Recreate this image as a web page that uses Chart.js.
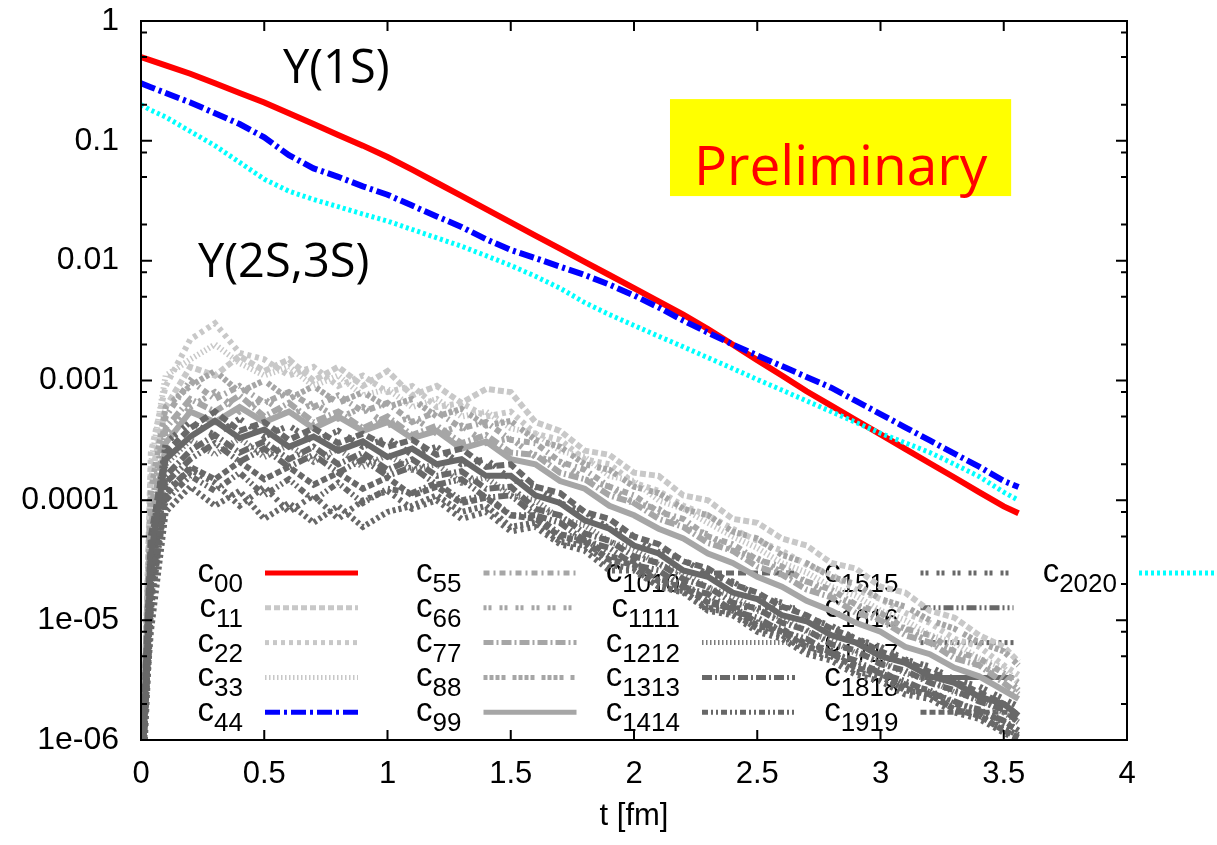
<!DOCTYPE html>
<html>
<head>
<meta charset="utf-8">
<script src="https://cdn.jsdelivr.net/npm/chart.js@4.4.1/dist/chart.umd.min.js"></script>
<style>
  html, body { margin: 0; padding: 0; background: #fff; }
  #wrap { width: 1217px; height: 845px; position: relative; }
</style>
</head>
<body>
<div id="wrap"><canvas id="myChart"></canvas></div>
<script>
// t [fm] sampling points shared by all correlators
const times = [0, 0.04, 0.1, 0.2, 0.3, 0.4, 0.5, 0.6, 0.7, 0.8, 0.9,
  1.0, 1.1, 1.2, 1.3, 1.4, 1.5, 1.6, 1.7, 1.8, 1.9,
  2.0, 2.1, 2.2, 2.3, 2.4, 2.5, 2.6, 2.7, 2.8, 2.9,
  3.0, 3.1, 3.2, 3.3, 3.4, 3.5, 3.56];

const xTickValues = [0, 0.5, 1, 1.5, 2, 2.5, 3, 3.5, 4];
const xTickLabels = ['0', '0.5', '1', '1.5', '2', '2.5', '3', '3.5', '4'];
const yTickValues = [1e-6, 1e-5, 1e-4, 1e-3, 1e-2, 1e-1, 1];
const yTickLabels = ['1e-06', '1e-05', '0.0001', '0.001', '0.01', '0.1', '1'];

// Y(1S), Y(2S,3S) diagonal elements
const c00 = [0.50, 0.47, 0.427, 0.363, 0.302, 0.251, 0.209, 0.170, 0.138, 0.112, 0.0912,
  0.0733, 0.0575, 0.0447, 0.0347, 0.0269, 0.0209, 0.0162, 0.0126, 0.00977, 0.00759,
  0.00589, 0.00457, 0.00355, 0.00269, 0.00200, 0.00148, 0.00110, 0.000813, 0.000617, 0.000468,
  0.000355, 0.000269, 0.000204, 0.000155, 0.000117, 0.000089, 0.000078];
const c44 = [0.302, 0.28, 0.251, 0.209, 0.170, 0.138, 0.107, 0.0759, 0.0589, 0.0501, 0.0417,
  0.0355, 0.0288, 0.0234, 0.0191, 0.0151, 0.0123, 0.0105, 0.00891, 0.00759, 0.00631,
  0.00513, 0.00407, 0.00316, 0.00251, 0.00200, 0.00162, 0.00132, 0.00107, 0.000871, 0.000676,
  0.000525, 0.000407, 0.000316, 0.000245, 0.000191, 0.000145, 0.000129];
const c2020 = [0.200, 0.18, 0.158, 0.120, 0.0912, 0.0661, 0.0479, 0.0380, 0.0324, 0.0282, 0.0245,
  0.0214, 0.0182, 0.0155, 0.0132, 0.0110, 0.00912, 0.00741, 0.00589, 0.00447, 0.00355,
  0.00288, 0.00234, 0.00191, 0.00155, 0.00126, 0.00102, 0.000832, 0.000676, 0.000550, 0.000447,
  0.000363, 0.000302, 0.000251, 0.000200, 0.000158, 0.000117, 0.000100];

// noisy off-diagonal / excited correlators
const c11 = [3e-7, 1.5e-4, 6e-4, 1.3e-3, 1.1e-3, 1.6e-3, 1.2e-3, 1.5e-3, 1.0e-3, 1.3e-3, 9e-4,
  1.2e-3, 7.5e-4, 9e-4, 6.5e-4, 8.5e-4, 8e-4, 4.5e-4, 3.8e-4, 2.6e-4, 2.4e-4,
  1.7e-4, 1.6e-4, 1.1e-4, 1.0e-4, 7e-5, 6.5e-5, 4.8e-5, 4.2e-5, 3.0e-5, 2.7e-5,
  1.9e-5, 1.7e-5, 1.2e-5, 1.05e-5, 7.5e-6, 6e-6, 4.5e-6];
const c22 = [2e-7, 2.5e-4, 9e-4, 2.2e-3, 3.0e-3, 1.7e-3, 1.5e-3, 1.1e-3, 1.3e-3, 9e-4, 1.1e-3,
  8e-4, 9e-4, 6e-4, 6.5e-4, 5e-4, 5.5e-4, 3.6e-4, 3.2e-4, 2.2e-4, 2.0e-4,
  1.4e-4, 1.2e-4, 9e-5, 7.5e-5, 5.8e-5, 4.6e-5, 3.8e-5, 2.9e-5, 2.4e-5, 1.8e-5,
  1.5e-5, 1.15e-5, 9.5e-6, 7e-6, 6e-6, 4.2e-6, 3.5e-6];
const c33 = [2e-7, 2e-4, 1.1e-3, 1.5e-3, 2.0e-3, 1.4e-3, 1.1e-3, 1.3e-3, 9e-4, 1.1e-3, 7.5e-4,
  8.5e-4, 6e-4, 7e-4, 5e-4, 5.5e-4, 4e-4, 3.6e-4, 2.6e-4, 2.3e-4, 1.6e-4,
  1.45e-4, 1.0e-4, 8.5e-5, 6.5e-5, 5e-5, 4e-5, 3e-5, 2.5e-5, 1.9e-5, 1.6e-5,
  1.2e-5, 1.0e-5, 7.5e-6, 6.5e-6, 4.8e-6, 4e-6, 3e-6];
const c55 = [4e-7, 8e-5, 5e-4, 1.0e-3, 7e-4, 9e-4, 6.5e-4, 8e-4, 6e-4, 7.5e-4, 5.5e-4,
  6.5e-4, 4.5e-4, 5.5e-4, 4e-4, 4.5e-4, 3.2e-4, 3e-4, 2.1e-4, 1.8e-4, 1.3e-4,
  1.1e-4, 8e-5, 7e-5, 5e-5, 4.3e-5, 3.2e-5, 2.8e-5, 2.1e-5, 1.8e-5, 1.35e-5,
  1.15e-5, 8.5e-6, 7.5e-6, 5.5e-6, 4.8e-6, 3.6e-6, 3e-6];
const c66 = [3e-7, 4e-5, 3.5e-4, 6e-4, 8e-4, 5.5e-4, 7e-4, 5e-4, 6.5e-4, 4.8e-4, 6e-4,
  4.2e-4, 5e-4, 3.6e-4, 4.2e-4, 3e-4, 3.3e-4, 2.3e-4, 2.1e-4, 1.5e-4, 1.3e-4,
  9.5e-5, 8.5e-5, 6e-5, 5.2e-5, 3.8e-5, 3.3e-5, 2.5e-5, 2.1e-5, 1.6e-5, 1.35e-5,
  1.0e-5, 8.5e-6, 6.5e-6, 5.5e-6, 4.2e-6, 3.4e-6, 2.6e-6];
const c77 = [5e-7, 6e-5, 4e-4, 7e-4, 5.5e-4, 7.5e-4, 5e-4, 6.5e-4, 4.5e-4, 5.5e-4, 4e-4,
  5e-4, 3.5e-4, 4.2e-4, 3e-4, 3.5e-4, 2.5e-4, 2.4e-4, 1.7e-4, 1.5e-4, 1.1e-4,
  9.5e-5, 7e-5, 6e-5, 4.4e-5, 3.8e-5, 2.8e-5, 2.4e-5, 1.8e-5, 1.55e-5, 1.15e-5,
  1.0e-5, 7.5e-6, 6.5e-6, 4.8e-6, 4.2e-6, 3e-6, 2.4e-6];
const c88 = [3e-7, 1.2e-4, 6e-4, 9e-4, 1.2e-3, 8e-4, 1.0e-3, 7e-4, 9e-4, 6.5e-4, 8e-4,
  6e-4, 7e-4, 5e-4, 5.8e-4, 4.2e-4, 4.6e-4, 3.2e-4, 2.8e-4, 2.0e-4, 1.8e-4,
  1.3e-4, 1.15e-4, 8.5e-5, 7.5e-5, 5.5e-5, 4.8e-5, 3.5e-5, 3.0e-5, 2.3e-5, 2.0e-5,
  1.5e-5, 1.3e-5, 1.0e-5, 8.5e-6, 6.5e-6, 5.5e-6, 4.2e-6];
const c99 = [6e-7, 3e-5, 3e-4, 5.5e-4, 4.5e-4, 6e-4, 4.5e-4, 5.5e-4, 4e-4, 5e-4, 3.8e-4,
  4.5e-4, 3.3e-4, 3.8e-4, 2.7e-4, 3.1e-4, 2.2e-4, 2.0e-4, 1.45e-4, 1.25e-4, 9e-5,
  7.5e-5, 5.8e-5, 4.8e-5, 3.6e-5, 3.0e-5, 2.3e-5, 1.9e-5, 1.45e-5, 1.2e-5, 9.5e-6,
  8e-6, 6e-6, 5.2e-6, 4e-6, 3.4e-6, 2.6e-6, 2.2e-6];
const c1010 = [4e-7, 5e-5, 2.5e-4, 4e-4, 5.5e-4, 3.8e-4, 4.5e-4, 3.2e-4, 4e-4, 3e-4, 3.6e-4,
  2.8e-4, 3.2e-4, 2.4e-4, 2.7e-4, 1.9e-4, 2.0e-4, 1.3e-4, 1.15e-4, 8e-5, 7e-5,
  5e-5, 4.3e-5, 3.1e-5, 2.7e-5, 2.0e-5, 1.7e-5, 1.3e-5, 1.1e-5, 8.5e-6, 7e-6,
  5.5e-6, 4.6e-6, 3.7e-6, 3.1e-6, 2.5e-6, 2e-6, 1.6e-6];
const c1111 = [2e-7, 1.2e-5, 1.2e-4, 1.8e-4, 1.4e-4, 9e-5, 1.3e-4, 8e-5, 1.1e-4, 7e-5, 1.0e-4,
  1.2e-4, 8.5e-5, 1.0e-4, 7e-5, 8e-5, 5.5e-5, 6e-5, 4.3e-5, 3.8e-5, 2.6e-5,
  2.6e-5, 1.9e-5, 1.7e-5, 1.2e-5, 1.1e-5, 8e-6, 7e-6, 5.2e-6, 4.6e-6, 3.5e-6,
  3.1e-6, 2.4e-6, 2.2e-6, 1.7e-6, 1.5e-6, 1.15e-6, 1.0e-6];
const c1212 = [3e-7, 3e-5, 2e-4, 3.2e-4, 2.4e-4, 3.3e-4, 2.3e-4, 2.9e-4, 2.1e-4, 2.7e-4, 1.9e-4,
  2.4e-4, 1.8e-4, 2.0e-4, 1.4e-4, 1.55e-4, 1.1e-4, 1.0e-4, 7e-5, 6.2e-5, 4.5e-5,
  3.9e-5, 2.9e-5, 2.5e-5, 1.85e-5, 1.6e-5, 1.2e-5, 1.05e-5, 8e-6, 6.8e-6, 5.3e-6,
  4.6e-6, 3.6e-6, 3.2e-6, 2.5e-6, 2.2e-6, 1.7e-6, 1.4e-6];
const c1313 = [5e-7, 2e-5, 1.6e-4, 2.6e-4, 3.5e-4, 2.5e-4, 3.1e-4, 2.2e-4, 2.8e-4, 2.0e-4, 2.5e-4,
  1.8e-4, 2.2e-4, 1.6e-4, 1.75e-4, 1.25e-4, 1.3e-4, 8.5e-5, 7.5e-5, 5.3e-5, 4.6e-5,
  3.4e-5, 3.0e-5, 2.2e-5, 1.9e-5, 1.4e-5, 1.25e-5, 9.5e-6, 8.3e-6, 6.3e-6, 5.6e-6,
  4.3e-6, 3.8e-6, 3.0e-6, 2.6e-6, 2.1e-6, 1.8e-6, 1.4e-6];
const c1414 = [3e-7, 1.5e-5, 1.0e-4, 1.6e-4, 1.2e-4, 1.7e-4, 1.1e-4, 1.5e-4, 1.0e-4, 1.4e-4, 9.5e-5,
  1.25e-4, 1.15e-4, 1.4e-4, 1.0e-4, 1.1e-4, 7.5e-5, 7.5e-5, 5.2e-5, 4.8e-5, 3.4e-5,
  3.1e-5, 2.2e-5, 2.0e-5, 1.45e-5, 1.3e-5, 9.5e-6, 8.5e-6, 6.3e-6, 5.6e-6, 4.2e-6,
  3.8e-6, 2.9e-6, 2.6e-6, 2.0e-6, 1.8e-6, 1.4e-6, 1.2e-6];
const c1515 = [4e-7, 4e-5, 3e-4, 4.5e-4, 3.5e-4, 4.8e-4, 3.4e-4, 4.2e-4, 3.1e-4, 3.8e-4, 2.8e-4,
  3.3e-4, 2.4e-4, 2.8e-4, 2.0e-4, 2.2e-4, 1.5e-4, 1.3e-4, 9.5e-5, 8e-5, 5.8e-5,
  5e-5, 3.7e-5, 3.2e-5, 2.4e-5, 2.1e-5, 1.6e-5, 1.4e-5, 1.05e-5, 9e-6, 7e-6,
  6e-6, 4.7e-6, 4.1e-6, 3.2e-6, 2.8e-6, 2.2e-6, 1.9e-6];
const c1616 = [2e-7, 2.5e-5, 1.4e-4, 2.2e-4, 3.0e-4, 2.1e-4, 2.7e-4, 1.9e-4, 2.4e-4, 1.7e-4, 2.2e-4,
  1.6e-4, 1.9e-4, 1.35e-4, 1.5e-4, 1.05e-4, 1.1e-4, 7.5e-5, 6.5e-5, 4.6e-5, 4.0e-5,
  2.9e-5, 2.6e-5, 1.9e-5, 1.65e-5, 1.2e-5, 1.05e-5, 8e-6, 7e-6, 5.3e-6, 4.6e-6,
  3.6e-6, 3.1e-6, 2.5e-6, 2.1e-6, 1.75e-6, 1.45e-6, 1.2e-6];
const c1717 = [6e-7, 8e-6, 8e-5, 1.3e-4, 9e-5, 1.2e-4, 7e-5, 9.5e-5, 6.5e-5, 9e-5, 6e-5,
  8e-5, 9e-5, 1.1e-4, 8e-5, 9e-5, 6e-5, 6.5e-5, 4.5e-5, 4.2e-5, 2.9e-5,
  2.7e-5, 1.9e-5, 1.75e-5, 1.25e-5, 1.15e-5, 8.5e-6, 7.5e-6, 5.5e-6, 5e-6, 3.7e-6,
  3.4e-6, 2.6e-6, 2.4e-6, 1.8e-6, 1.6e-6, 1.25e-6, 1.1e-6];
const c1818 = [3e-7, 3.5e-5, 2.2e-4, 3.4e-4, 4.6e-4, 3.3e-4, 3.9e-4, 2.8e-4, 3.4e-4, 2.6e-4, 3.1e-4,
  2.3e-4, 2.7e-4, 2.0e-4, 2.2e-4, 1.6e-4, 1.6e-4, 1.1e-4, 9.5e-5, 6.8e-5, 5.8e-5,
  4.2e-5, 3.6e-5, 2.6e-5, 2.3e-5, 1.7e-5, 1.5e-5, 1.1e-5, 9.8e-6, 7.5e-6, 6.5e-6,
  5e-6, 4.4e-6, 3.4e-6, 3.0e-6, 2.3e-6, 2.0e-6, 1.6e-6];
const c1919 = [4e-7, 1.8e-5, 1.1e-4, 1.9e-4, 1.5e-4, 2.1e-4, 1.5e-4, 1.9e-4, 1.35e-4, 1.7e-4, 1.25e-4,
  1.55e-4, 1.1e-4, 1.3e-4, 9.5e-5, 1.05e-4, 7.5e-5, 7e-5, 5e-5, 4.5e-5, 3.2e-5,
  2.9e-5, 2.1e-5, 1.9e-5, 1.4e-5, 1.25e-5, 9e-6, 8e-6, 6e-6, 5.3e-6, 4e-6,
  3.6e-6, 2.7e-6, 2.4e-6, 1.8e-6, 1.6e-6, 1.2e-6, 1.05e-6];

const seriesNames = ['00', '11', '22', '33', '44', '55', '66', '77', '88', '99',
  '1010', '1111', '1212', '1313', '1414', '1515', '1616', '1717', '1818', '1919', '2020'];
const seriesValues = [c00, c11, c22, c33, c44, c55, c66, c77, c88, c99,
  c1010, c1111, c1212, c1313, c1414, c1515, c1616, c1717, c1818, c1919, c2020];

// line styles: [colour, width, dash]
const light = '#c8c8c8', mid = '#a6a6a6', dark = '#686868';
const styles = [
  ['#ff0000', 6, []],
  [light, 6, [6, 3]],
  [light, 6, [4, 4]],
  [light, 6, [1.5, 2.5]],
  ['#0000ff', 6, [15, 4, 3, 4]],
  [mid, 6, [6, 4, 2, 4]],
  [mid, 6, [3, 2, 3, 8]],
  [mid, 6, [10, 3, 2, 3]],
  [mid, 6, [4, 2, 4, 2, 4, 2, 4, 7]],
  [mid, 6, []],
  [dark, 6, [8, 4]],
  [dark, 6, [3, 4]],
  ['#7c7c7c', 6, [1.5, 2.5]],
  [dark, 6, [10, 3, 2, 3]],
  [dark, 6, [6, 3, 2, 3, 2, 3]],
  [dark, 6, [3, 2, 3, 8]],
  [dark, 6, [10, 3, 2, 3, 2, 3]],
  [dark, 6, [3, 3]],
  [dark, 6, []],
  [dark, 6, [6, 3]],
  ['#00ffff', 5, [3, 3]]
];

const datasets = seriesNames.map((name, i) => ({
  label: 'c' + name,
  data: times.map((t, j) => ({ x: t, y: seriesValues[i][j] })),
  borderColor: styles[i][0],
  borderWidth: styles[i][1],
  borderDash: styles[i][2],
  pointRadius: 0,
  fill: false,
  tension: 0,
  clip: 0,
  order: -i
}));

// gnuplot-like key: right-aligned "c" + subscript, sample to the right
const keyPlugin = {
  id: 'gnuKey',
  beforeDatasetsDraw(chart) {
    const { ctx, chartArea: a } = chart;
    chart.data.datasets.forEach((ds, i) => {
      const col = Math.floor(i / 5), row = i % 5;
      const sx = a.left + 124 + col * 218.5;
      const sy = a.top + 552 + row * 34.8;
      ctx.save();
      ctx.strokeStyle = ds.borderColor;
      ctx.lineWidth = 5;
      ctx.setLineDash(ds.borderDash);
      ctx.beginPath();
      ctx.moveTo(sx, sy);
      ctx.lineTo(sx + 93, sy);
      ctx.stroke();
      ctx.setLineDash([]);
      const sub = ds.label.slice(1);
      ctx.fillStyle = '#000';
      ctx.textBaseline = 'alphabetic';
      ctx.font = '26px "Liberation Sans"';
      const wSub = ctx.measureText(sub).width;
      ctx.font = '33px "Liberation Sans"';
      const wC = ctx.measureText('c').width;
      const right = sx - 22;
      ctx.fillText('c', right - wSub - wC, sy + 9);
      ctx.font = '26px "Liberation Sans"';
      ctx.fillText(sub, right - wSub, sy + 19);
      ctx.restore();
    });
  }
};

// border, inward ticks and the text labels
const framePlugin = {
  id: 'frame',
  afterDatasetsDraw(chart) {
    const { ctx, chartArea: a, scales: { x, y } } = chart;
    ctx.save();
    ctx.strokeStyle = '#000';
    ctx.lineWidth = 2;
    ctx.setLineDash([]);
    ctx.beginPath();
    xTickValues.forEach(v => {
      const px = x.getPixelForValue(v);
      ctx.moveTo(px, a.bottom); ctx.lineTo(px, a.bottom - 10);
      ctx.moveTo(px, a.top); ctx.lineTo(px, a.top + 10);
    });
    yTickValues.forEach(v => {
      const py = y.getPixelForValue(v);
      ctx.moveTo(a.left, py); ctx.lineTo(a.left + 11, py);
      ctx.moveTo(a.right, py); ctx.lineTo(a.right - 11, py);
      if (v < 1) {
        [2, 5, 8].forEach(m => {
          const pm = y.getPixelForValue(v * m);
          ctx.moveTo(a.left, pm); ctx.lineTo(a.left + 6, pm);
          ctx.moveTo(a.right, pm); ctx.lineTo(a.right - 6, pm);
        });
      }
    });
    ctx.stroke();
    ctx.strokeRect(a.left, a.top, a.right - a.left, a.bottom - a.top);

    ctx.fillStyle = '#000';
    ctx.textBaseline = 'alphabetic';
    ctx.font = '47px "Open Sans"';
    ctx.fillText('Y(1S)', x.getPixelForValue(0.576), y.getPixelForValue(0.304));
    ctx.fillText('Y(2S,3S)', x.getPixelForValue(0.231), y.getPixelForValue(0.0073));

    const bx0 = x.getPixelForValue(2.146), bx1 = x.getPixelForValue(3.53);
    const by0 = y.getPixelForValue(0.223), by1 = y.getPixelForValue(0.0346);
    ctx.fillStyle = '#ffff00';
    ctx.fillRect(bx0, by0, bx1 - bx0, by1 - by0);
    ctx.fillStyle = '#ff0000';
    ctx.font = '55px "Open Sans"';
    ctx.textAlign = 'center';
    ctx.fillText('Preliminary', (bx0 + bx1) / 2, y.getPixelForValue(0.0427));
    ctx.restore();
  }
};

new Chart(document.getElementById('myChart'), {
  type: 'line',
  data: { datasets },
  options: {
    responsive: true,
    maintainAspectRatio: false,
    animation: false,
    layout: { padding: { top: 21, right: 90, left: 0, bottom: 0 } },
    plugins: { legend: { display: false }, tooltip: { enabled: false } },
    scales: {
      x: {
        type: 'linear',
        min: 0,
        max: 4,
        afterBuildTicks: s => { s.ticks = xTickValues.map(v => ({ value: v })); },
        afterFit: s => { s.height = 105; },
        grid: { display: false, drawTicks: false },
        border: { display: false },
        ticks: {
          color: '#000',
          font: { family: 'Liberation Sans', size: 31 },
          padding: 16,
          maxRotation: 0,
          autoSkip: false,
          callback: (v, i) => xTickLabels[i]
        },
        title: {
          display: true,
          text: 't [fm]',
          color: '#000',
          font: { family: 'Liberation Sans', size: 31 },
          padding: { top: 0, bottom: 10 }
        }
      },
      y: {
        type: 'logarithmic',
        min: 1e-6,
        max: 1,
        afterBuildTicks: s => { s.ticks = yTickValues.map(v => ({ value: v })); },
        afterFit: s => { s.width = 141; s.paddingTop = 0; s.paddingBottom = 0; },
        grid: { display: false, drawTicks: false },
        border: { display: false },
        ticks: {
          color: '#000',
          font: { family: 'Liberation Sans', size: 32 },
          padding: 22,
          autoSkip: false,
          callback: (v, i) => yTickLabels[i]
        }
      }
    }
  },
  plugins: [keyPlugin, framePlugin]
});
</script>
</body>
</html>
